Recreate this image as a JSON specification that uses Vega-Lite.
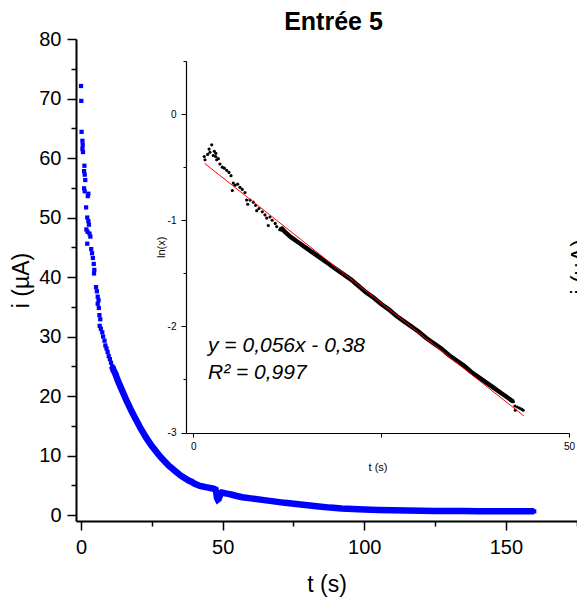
{
  "$schema": "https://vega.github.io/schema/vega-lite/v6.json",
  "width": 501,
  "height": 482,
  "autosize": {"type": "none"},
  "padding": {"left": 76, "top": 39, "right": 0, "bottom": 83},
  "background": "white",
  "config": {"view": {"stroke": null}, "font": "Liberation Sans", "axis": {"grid": false}},
  "title": {"text": "Entrée 5", "font": "Liberation Sans", "fontSize": 25, "fontWeight": "bold", "color": "black", "anchor": "middle", "frame": "group", "dx": 7, "offset": -26, "baseline": "alphabetic"},
  "datasets": {
    "main": [
      {"t":0.0,"i":72.1},{"t":0.1,"i":69.6},{"t":0.2,"i":64.4},{"t":0.5,"i":62.9},{"t":0.6,"i":62.2},{"t":0.5,"i":61.5},{"t":0.7,"i":61.0},
      {"t":1.2,"i":58.7},{"t":1.1,"i":57.8},{"t":1.3,"i":57.2},{"t":1.5,"i":56.3},{"t":1.1,"i":54.9},{"t":1.3,"i":54.4},{"t":2.6,"i":54.0},
      {"t":2.4,"i":53.6},{"t":1.8,"i":51.7},{"t":2.2,"i":50.0},{"t":2.6,"i":49.4},{"t":2.8,"i":48.8},{"t":1.9,"i":48.0},{"t":2.3,"i":47.6},
      {"t":3.0,"i":47.3},{"t":3.3,"i":46.8},{"t":2.2,"i":45.6},{"t":3.6,"i":44.7},{"t":3.9,"i":44.0},{"t":4.2,"i":43.2},{"t":4.5,"i":42.2},
      {"t":4.7,"i":41.2},{"t":4.6,"i":40.6},{"t":5.3,"i":38.3},{"t":5.6,"i":37.6},{"t":5.9,"i":36.7},{"t":6.2,"i":36.1},{"t":5.9,"i":35.5},
      {"t":6.3,"i":34.8},{"t":6.5,"i":33.6},{"t":6.8,"i":32.9},{"t":6.6,"i":31.8},{"t":7.0,"i":31.3},{"t":7.5,"i":30.7},{"t":7.8,"i":30.0},
      {"t":8.3,"i":29.3},{"t":8.6,"i":28.5},{"t":9.0,"i":28.0},{"t":9.4,"i":27.4},{"t":9.8,"i":26.7},{"t":10.2,"i":26.2},{"t":10.6,"i":25.6},
      {"t":11.0,"i":25.0},{"t":11.5,"i":24.3},
      {"t":12,"i":23.9},{"t":13,"i":22.6},{"t":14,"i":21.5},{"t":15,"i":20.4},{"t":16,"i":19.3},{"t":17,"i":18.3},{"t":18,"i":17.3},
      {"t":19,"i":16.4},{"t":20,"i":15.5},{"t":21,"i":14.6},{"t":22,"i":13.8},{"t":23,"i":13.0},{"t":24,"i":12.3},{"t":25,"i":11.6},
      {"t":26,"i":11.0},{"t":27,"i":10.4},{"t":28,"i":9.8},{"t":29,"i":9.3},{"t":30,"i":8.8},{"t":31,"i":8.3},{"t":32,"i":7.9},
      {"t":33,"i":7.5},{"t":34,"i":7.1},{"t":35,"i":6.7},{"t":36,"i":6.4},{"t":37,"i":6.1},{"t":38,"i":5.8},{"t":39,"i":5.6},
      {"t":40,"i":5.3},{"t":41,"i":5.1},{"t":42,"i":4.9},{"t":43,"i":4.8},{"t":44,"i":4.7},{"t":45,"i":4.6},{"t":46,"i":4.5},
      {"t":47,"i":4.4},{"t":47.5,"i":4.3},{"t":47.8,"i":3.6},{"t":48.0,"i":2.9},{"t":48.3,"i":2.6},{"t":48.6,"i":2.7},{"t":49.0,"i":3.2},
      {"t":49.3,"i":3.7},{"t":49.6,"i":3.8},{"t":50,"i":3.75},{"t":51,"i":3.65},{"t":52,"i":3.55},{"t":53,"i":3.45},{"t":55,"i":3.2},
      {"t":57,"i":3.0},{"t":60,"i":2.8},{"t":64,"i":2.55},{"t":68,"i":2.3},{"t":72,"i":2.05},{"t":76,"i":1.85},{"t":80,"i":1.65},
      {"t":84,"i":1.45},{"t":88,"i":1.25},{"t":92,"i":1.1},{"t":96,"i":1.0},{"t":100,"i":0.92},{"t":105,"i":0.85},{"t":110,"i":0.8},
      {"t":115,"i":0.76},{"t":120,"i":0.72},{"t":125,"i":0.7},{"t":130,"i":0.68},{"t":135,"i":0.66},{"t":140,"i":0.65},{"t":145,"i":0.64},
      {"t":150,"i":0.63},{"t":155,"i":0.62},{"t":160,"i":0.62}
    ],
    "edge": [{"t": 179, "i": 41.7, "label": "i (µA)"}],
    "inset": [
      {"t":1.46,"v":-0.40},{"t":1.56,"v":-0.43},{"t":1.91,"v":-0.38},{"t":2.1,"v":-0.33},{"t":2.22,"v":-0.36},{"t":2.45,"v":-0.29},
      {"t":2.66,"v":-0.39},{"t":2.8,"v":-0.35},{"t":2.98,"v":-0.40},{"t":3.0,"v":-0.37},{"t":3.11,"v":-0.43},{"t":3.33,"v":-0.42},
      {"t":3.55,"v":-0.47},{"t":3.86,"v":-0.50},{"t":4.13,"v":-0.51},{"t":4.44,"v":-0.53},{"t":4.75,"v":-0.55},{"t":5.02,"v":-0.58},
      {"t":5.32,"v":-0.65},{"t":5.55,"v":-0.67},{"t":5.19,"v":-0.72},{"t":5.91,"v":-0.66},{"t":6.22,"v":-0.69},{"t":6.52,"v":-0.71},
      {"t":6.88,"v":-0.74},{"t":7.10,"v":-0.81},{"t":7.24,"v":-0.85},{"t":7.55,"v":-0.81},{"t":7.99,"v":-0.83},{"t":8.30,"v":-0.86},
      {"t":8.44,"v":-0.91},{"t":8.74,"v":-0.89},{"t":9.18,"v":-0.92},{"t":9.54,"v":-0.95},{"t":9.77,"v":-0.98},{"t":9.98,"v":-1.05},
      {"t":10.2,"v":-0.97},{"t":10.5,"v":-1.00},{"t":10.9,"v":-1.03},{"t":11.1,"v":-1.06},{"t":11.5,"v":-1.09},{"t":11.8,"v":-1.08},
      {"t":12.2,"v":-1.11},
      {"t":13,"v":-1.16},{"t":14,"v":-1.21},{"t":15,"v":-1.26},{"t":16,"v":-1.31},{"t":17,"v":-1.36},{"t":18,"v":-1.41},
      {"t":19,"v":-1.46},{"t":20,"v":-1.51},{"t":21,"v":-1.56},{"t":22,"v":-1.62},{"t":23,"v":-1.68},{"t":24,"v":-1.73},
      {"t":25,"v":-1.79},{"t":26,"v":-1.84},{"t":27,"v":-1.90},{"t":28,"v":-1.95},{"t":29,"v":-2.00},{"t":30,"v":-2.05},
      {"t":31,"v":-2.11},{"t":32,"v":-2.16},{"t":33,"v":-2.21},{"t":34,"v":-2.27},{"t":35,"v":-2.32},{"t":36,"v":-2.37},
      {"t":37,"v":-2.43},{"t":38,"v":-2.48},{"t":39,"v":-2.53},{"t":40,"v":-2.58},{"t":41,"v":-2.63},{"t":42,"v":-2.68},
      {"t":42.6,"v":-2.71},{"t":42.8,"v":-2.75},{"t":42.85,"v":-2.79},{"t":43.1,"v":-2.76},{"t":43.4,"v":-2.77},{"t":43.7,"v":-2.78},
      {"t":43.9,"v":-2.79}
    ],
    "fit": [{"t":1.5,"v":-0.464},{"t":44,"v":-2.844}],
    "notes": [
      {"t":1.96,"v":-2.245,"label":"y = 0,056x - 0,38"},
      {"t":1.96,"v":-2.5,"label":"R² = 0,997"}
    ]
  },
  "layer": [
    {
      "data": {"name": "main"},
      "encoding": {
        "x": {"field": "t", "type": "quantitative",
          "scale": {"domain": [-1.765, 175.1], "nice": false, "zero": false},
          "axis": {"values": [0,25,50,75,100,125,150,175], "labelExpr": "datum.value % 50 === 0 ? '' + datum.value : ''",
            "title": "t (s)", "titleFont": "Liberation Sans", "titleFontSize": 23, "titleFontWeight": "normal", "titleColor": "black",
            "labelFont": "Liberation Sans", "labelFontSize": 20, "labelColor": "black", "labelPadding": 7, "titlePadding": 16,
            "domainColor": "black", "domainWidth": 2, "tickColor": "black", "tickWidth": 1.5,
            "tickSize": {"condition": {"test": "datum.value % 50 === 0", "value": 9}, "value": 5},
            "labelFlush": false, "labelOverlap": false, "grid": false}},
        "y": {"field": "i", "type": "quantitative",
          "scale": {"domain": [-1, 80], "nice": false, "zero": false},
          "axis": {"values": [0,5,10,15,20,25,30,35,40,45,50,55,60,65,70,75,80], "labelExpr": "datum.value % 10 === 0 ? '' + datum.value : ''",
            "title": "i (µA)", "titleFont": "Liberation Sans", "titleFontSize": 23, "titleFontWeight": "normal", "titleColor": "black",
            "labelFont": "Liberation Sans", "labelFontSize": 20, "labelColor": "black", "labelPadding": 6, "titlePadding": 5,
            "domainColor": "black", "domainWidth": 2, "tickColor": "black", "tickWidth": 1.5,
            "tickSize": {"condition": {"test": "datum.value % 10 === 0", "value": 9}, "value": 5},
            "labelFlush": false, "labelOverlap": false, "grid": false}}
      },
      "layer": [
        {"mark": {"type": "square", "size": 18, "color": "#0000FF", "opacity": 1}},
        {"transform": [{"filter": "datum.t >= 11"}], "mark": {"type": "line", "color": "#0000FF", "strokeWidth": 6.5}},
        {"data": {"name": "edge"},
         "mark": {"type": "text", "angle": 270, "align": "center", "baseline": "alphabetic", "fontSize": 23, "font": "Liberation Sans", "color": "black"},
         "encoding": {"text": {"field": "label"}}}
      ]
    },
    {
      "data": {"name": "inset"},
      "encoding": {
        "x": {"field": "t", "type": "quantitative",
          "scale": {"domain": [-0.97, 50], "range": [110, 493], "nice": false, "zero": false},
          "axis": {"orient": "bottom", "offset": -88, "values": [0,25,50], "labelExpr": "datum.value === 25 ? '' : '' + datum.value",
            "title": "t (s)", "titleFont": "Liberation Sans", "titleFontSize": 11, "titleFontWeight": "normal", "titleColor": "black", "titlePadding": 10,
            "labelFont": "Liberation Sans", "labelFontSize": 10, "labelColor": "black", "labelPadding": 4,
            "domainColor": "black", "domainWidth": 1.2, "tickColor": "black", "tickWidth": 1, "tickSize": 4,
            "labelFlush": false, "labelOverlap": false, "grid": false}},
        "y": {"field": "v", "type": "quantitative",
          "scale": {"domain": [-3, 0.5], "range": [393.5, 22], "nice": false, "zero": false},
          "axis": {"orient": "left", "offset": -110, "values": [-3,-2.5,-2,-1.5,-1,-0.5,0,0.5], "labelExpr": "datum.value % 1 === 0 ? '' + datum.value : ''",
            "title": "ln(x)", "titleFont": "Liberation Sans", "titleFontSize": 11, "titleFontWeight": "normal", "titleColor": "black", "titlePadding": 1,
            "labelFont": "Liberation Sans", "labelFontSize": 10, "labelColor": "black", "labelPadding": 5,
            "domainColor": "black", "domainWidth": 1.2, "tickColor": "black", "tickWidth": 1,
            "tickSize": {"condition": {"test": "datum.value % 1 === 0", "value": 5}, "value": 3},
            "labelFlush": false, "labelOverlap": false, "grid": false}}
      },
      "layer": [
        {"mark": {"type": "circle", "size": 10, "color": "black", "opacity": 1}},
        {"transform": [{"filter": "datum.t >= 11.5 && datum.t <= 42.7"}], "mark": {"type": "line", "color": "black", "strokeWidth": 4.5}},
        {"data": {"name": "fit"}, "mark": {"type": "line", "color": "#FF0000", "strokeWidth": 1}},
        {"data": {"name": "notes"},
         "mark": {"type": "text", "align": "left", "baseline": "alphabetic", "fontSize": 21, "fontStyle": "italic", "font": "Liberation Sans", "color": "black"},
         "encoding": {"text": {"field": "label"}}}
      ]
    }
  ],
  "resolve": {"scale": {"x": "independent", "y": "independent"}, "axis": {"x": "independent", "y": "independent"}}
}
